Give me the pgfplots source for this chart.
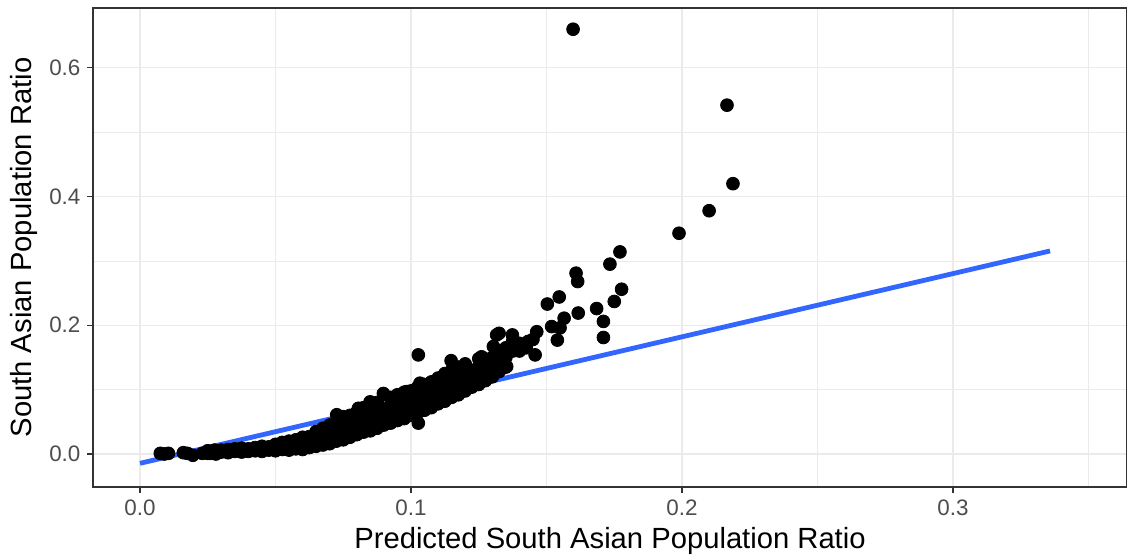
\documentclass[border=0pt]{standalone}
\usepackage{fontspec}
\setmainfont{Liberation Sans}
\usepackage{pgfplots}
\pgfplotsset{compat=1.18}
\definecolor{gridmaj}{HTML}{EBEBEB}
\definecolor{fitblue}{HTML}{3366FF}
\definecolor{gtwenty}{HTML}{333333}
\definecolor{gthirty}{HTML}{4D4D4D}
\begin{document}
\begin{tikzpicture}
\begin{axis}[
  name=ax,
  scale only axis, width=517pt, height=239.5pt,
  xmin=-0.01734, xmax=0.3642, ymin=-0.0513, ymax=0.693,
  xtick={0,0.1,0.2,0.3}, ytick={0,0.2,0.4,0.6},
  minor xtick={0.05,0.15,0.25,0.35}, minor ytick={0.1,0.3,0.5},
  xmajorgrids, ymajorgrids, xminorgrids, yminorgrids,
  major grid style={gridmaj, line width=0.55pt},
  minor grid style={gridmaj, line width=0.28pt},
  axis line style={gtwenty, line width=0.55pt},
  tick align=outside, tick pos=left,
  major tick length=2.75pt, minor tick length=0pt,
  tick style={gtwenty, line width=0.55pt},
  ticklabel style={font=\fontsize{11.2}{13}\selectfont, text=gthirty},
  /pgf/number format/assume math mode=true,
  xticklabel style={/pgf/number format/.cd, fixed, fixed zerofill, precision=1},
  yticklabel style={/pgf/number format/.cd, fixed, fixed zerofill, precision=1},
  scaled ticks=false,
  xlabel={Predicted South Asian Population Ratio},
  ylabel={South Asian Population Ratio},
  label style={font=\fontsize{14.6}{17}\selectfont, text=black},
  xlabel style={at={(axis description cs:0.5,0)}, yshift=-26.75pt, anchor=center},
  ylabel style={at={(axis description cs:0,0.5)}, yshift=34.5pt, anchor=center},
]
\addplot[only marks, mark=*, mark size=3.2pt, mark options={fill=black, draw=black}] table {
x y
0.0075 0.001
0.0090 0.000
0.0105 0.001
0.0160 0.002
0.0175 0.001
0.0195 -0.002
0.0230 0.001
0.0260 0.001
0.0280 0.000
0.0250 0.001
0.0250 0.005
0.0275 0.002
0.0275 0.006
0.0300 0.003
0.0300 0.006
0.0325 0.002
0.0325 0.007
0.0350 0.004
0.0350 0.008
0.0375 0.003
0.0375 0.006
0.0375 0.009
0.0400 0.004
0.0400 0.008
0.0425 0.005
0.0425 0.010
0.0450 0.004
0.0450 0.009
0.0450 0.012
0.0475 0.006
0.0475 0.011
0.0500 0.005
0.0500 0.010
0.0500 0.015
0.0525 0.007
0.0525 0.013
0.0525 0.018
0.0550 0.006
0.0550 0.012
0.0550 0.020
0.0575 0.008
0.0575 0.015
0.0575 0.022
0.0600 0.007
0.0600 0.014
0.0600 0.020
0.0600 0.026
0.0625 0.010
0.0625 0.018
0.0625 0.027
0.0650 0.012
0.0650 0.020
0.0650 0.029
0.0650 0.035
0.0675 0.014
0.0675 0.024
0.0675 0.033
0.0675 0.040
0.0700 0.016
0.0700 0.027
0.0700 0.036
0.0700 0.045
0.0725 0.020
0.0725 0.030
0.0725 0.040
0.0725 0.050
0.0750 0.022
0.0750 0.034
0.0750 0.045
0.0750 0.058
0.0775 0.026
0.0775 0.038
0.0775 0.048
0.0775 0.060
0.0800 0.030
0.0800 0.042
0.0800 0.052
0.0800 0.065
0.0825 0.034
0.0825 0.045
0.0825 0.057
0.0825 0.072
0.0850 0.036
0.0850 0.050
0.0850 0.062
0.0850 0.075
0.0875 0.040
0.0875 0.054
0.0875 0.066
0.0875 0.080
0.0900 0.045
0.0900 0.058
0.0900 0.070
0.0900 0.092
0.0925 0.048
0.0925 0.062
0.0925 0.075
0.0925 0.088
0.0950 0.052
0.0950 0.066
0.0950 0.080
0.0950 0.092
0.0975 0.055
0.0975 0.070
0.0975 0.084
0.0975 0.096
0.1000 0.060
0.1000 0.075
0.1000 0.088
0.1000 0.098
0.1025 0.064
0.1025 0.078
0.1025 0.092
0.1025 0.104
0.1050 0.068
0.1050 0.082
0.1050 0.096
0.1050 0.108
0.1075 0.072
0.1075 0.088
0.1075 0.100
0.1075 0.112
0.1100 0.078
0.1100 0.092
0.1100 0.104
0.1100 0.118
0.1125 0.082
0.1125 0.096
0.1125 0.110
0.1125 0.125
0.1150 0.088
0.1150 0.100
0.1150 0.114
0.1150 0.130
0.1175 0.092
0.1175 0.106
0.1175 0.120
0.1175 0.135
0.1200 0.098
0.1200 0.112
0.1200 0.125
0.1200 0.140
0.1225 0.104
0.1225 0.118
0.1225 0.130
0.1250 0.108
0.1250 0.122
0.1250 0.136
0.1250 0.148
0.1275 0.114
0.1275 0.128
0.1275 0.142
0.1300 0.120
0.1300 0.135
0.1300 0.150
0.1325 0.128
0.1325 0.142
0.1325 0.158
0.1350 0.135
0.1350 0.150
0.1350 0.165
0.1375 0.160
0.1375 0.175
0.1400 0.160
0.1400 0.172
0.1425 0.165
0.1450 0.178
0.1027 0.154
0.1027 0.048
0.1148 0.145
0.1199 0.136
0.1267 0.149
0.1304 0.167
0.1325 0.1875
0.1374 0.185
0.1353 0.136
0.1408 0.167
0.1433 0.175
0.1458 0.154
0.1464 0.190
0.1519 0.198
0.1550 0.196
0.1540 0.177
0.1565 0.211
0.1503 0.233
0.1547 0.244
0.1615 0.268
0.1609 0.281
0.1617 0.219
0.1685 0.226
0.1710 0.206
0.1710 0.181
0.1750 0.237
0.1777 0.256
0.1771 0.314
0.1734 0.295
0.1989 0.343
0.2100 0.378
0.2188 0.420
0.2166 0.542
0.1598 0.660
0.0898 0.094
0.0849 0.081
0.0806 0.071
0.0726 0.061
0.0984 0.097
0.1033 0.110
0.1082 0.112
0.1316 0.185
0.1260 0.151
};
\addplot[fitblue, line width=2.4pt] coordinates {(0,-0.0145) (0.3358,0.3155)};
\end{axis}
\pgfresetboundingbox
\path ([xshift=-46.5pt,yshift=-35pt]ax.south west) rectangle ([yshift=4pt]ax.north east);
\end{tikzpicture}
\end{document}
